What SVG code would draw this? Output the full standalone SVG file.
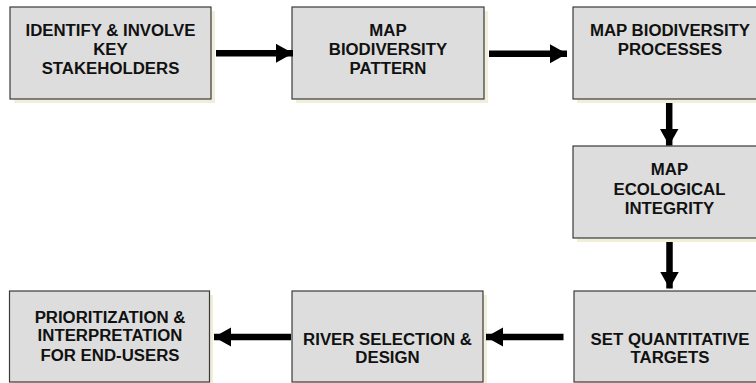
<svg xmlns="http://www.w3.org/2000/svg" width="756" height="383" viewBox="0 0 756 383">
  <style>
    .shadow { fill: #f1efd9; }
    .box { fill: #dddddd; stroke: #3a3a3a; stroke-width: 1.2; }
    .label { font-family: "Liberation Sans", Arial, Helvetica, sans-serif; font-weight: bold; font-size: 16.8px; fill: #111111; text-anchor: middle; }
    .flow { stroke: #000000; stroke-width: 6.5; fill: none; marker-end: url(#head); }
  </style>
  <defs>
    <marker id="head" markerUnits="userSpaceOnUse" markerWidth="18" markerHeight="20" refX="17" refY="9.5" orient="auto" viewBox="0 0 18 20">
      <path d="M0,0 L17,9.5 L0,19 Z" fill="#000000"/>
    </marker>
  </defs>

  <rect width="756" height="383" fill="#ffffff"/>

  <!-- process steps -->
  <g id="identify-stakeholders">
    <rect class="shadow" x="14" y="11" width="201" height="92"/>
    <rect class="box" x="10" y="7" width="201" height="92"/>
    <text class="label" x="110.5" y="36">IDENTIFY &amp; INVOLVE</text>
    <text class="label" x="110.5" y="55">KEY</text>
    <text class="label" x="110.5" y="74">STAKEHOLDERS</text>
  </g>

  <g id="map-pattern">
    <rect class="shadow" x="296" y="11" width="192" height="92"/>
    <rect class="box" x="292" y="7" width="192" height="92"/>
    <text class="label" x="388" y="36">MAP</text>
    <text class="label" x="388" y="55">BIODIVERSITY</text>
    <text class="label" x="388" y="74">PATTERN</text>
  </g>

  <g id="map-processes">
    <rect class="shadow" x="577" y="11" width="194" height="92"/>
    <rect class="box" x="573" y="7" width="194" height="92"/>
    <text class="label" x="670" y="36">MAP BIODIVERSITY</text>
    <text class="label" x="670" y="55">PROCESSES</text>
  </g>

  <g id="map-integrity">
    <rect class="shadow" x="577" y="150" width="194" height="92"/>
    <rect class="box" x="573" y="146" width="194" height="92"/>
    <text class="label" x="669.5" y="175.3">MAP</text>
    <text class="label" x="669.5" y="194.5">ECOLOGICAL</text>
    <text class="label" x="669.5" y="213.5">INTEGRITY</text>
  </g>

  <g id="set-targets">
    <rect class="shadow" x="578" y="295" width="194" height="92"/>
    <rect class="box" x="574" y="291" width="194" height="91"/>
    <text class="label" x="670" y="344.7">SET QUANTITATIVE</text>
    <text class="label" x="670" y="363.3">TARGETS</text>
  </g>

  <g id="river-selection">
    <rect class="shadow" x="296" y="295" width="191" height="92"/>
    <rect class="box" x="292" y="291" width="191" height="91"/>
    <text class="label" x="387.5" y="344.7">RIVER SELECTION &amp;</text>
    <text class="label" x="387.5" y="363.3">DESIGN</text>
  </g>

  <g id="prioritization">
    <rect class="shadow" x="13" y="295" width="200" height="92"/>
    <rect class="box" x="9.5" y="291" width="200" height="91"/>
    <text class="label" x="110" y="322.7">PRIORITIZATION &amp;</text>
    <text class="label" x="110" y="341.3">INTERPRETATION</text>
    <text class="label" x="110" y="360.7">FOR END-USERS</text>
  </g>

  <!-- connectors -->
  <g id="connectors">
    <path class="flow" d="M216,53.3 L293,53.3"/>
    <path class="flow" d="M489,53.7 L567,53.7"/>
    <path class="flow" d="M669.2,103 L669.2,145.5"/>
    <path class="flow" d="M669.5,242 L669.5,288.5"/>
    <path class="flow" d="M563.5,337 L486,337"/>
    <path class="flow" d="M291,337 L214,337"/>
  </g>
</svg>
